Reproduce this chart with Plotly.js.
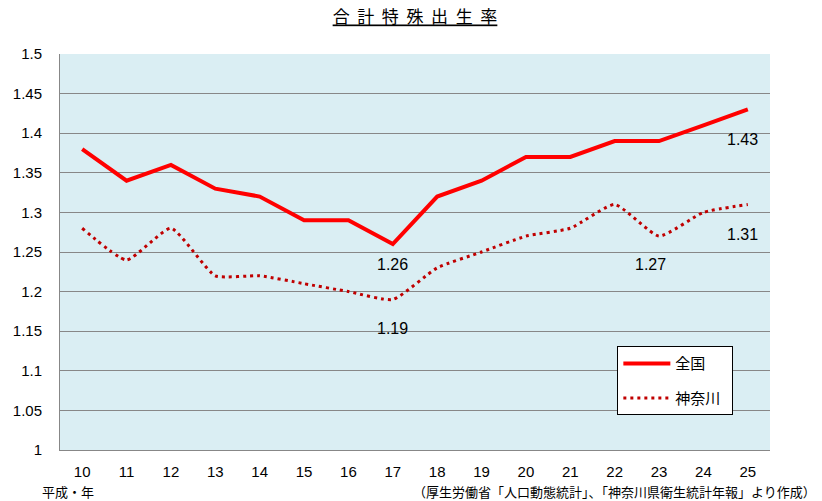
<!DOCTYPE html>
<html><head><meta charset="utf-8">
<script src="https://cdn.plot.ly/plotly-3.0.1.min.js"></script>
<style>body{margin:0;background:#fff}#c{width:822px;height:501px}</style>
</head><body><div id="c"></div>
<script>
const years = ['10','11','12','13','14','15','16','17','18','19','20','21','22','23','24','25'];
const national = [1.38,1.34,1.36,1.33,1.32,1.29,1.29,1.26,1.32,1.34,1.37,1.37,1.39,1.39,1.41,1.43];
const kanagawa = [1.28,1.24,1.28,1.22,1.22,1.21,1.20,1.19,1.23,1.25,1.27,1.28,1.31,1.27,1.30,1.31];
const labelsNational = [{i:7,t:'1.26',dy:-20,dx:0},{i:15,t:'1.43',dy:-30,dx:-5}];
const labelsKanagawa = [{i:7,t:'1.19',dy:-29,dx:0},{i:13,t:'1.27',dy:-28,dx:-9},{i:15,t:'1.31',dy:-30,dx:-5}];
const yTicks = [1,1.05,1.1,1.15,1.2,1.25,1.3,1.35,1.4,1.45,1.5];
const yTickText = ['1','1.05','1.1','1.15','1.2','1.25','1.3','1.35','1.4','1.45','1.5'];

const font = 'Liberation Sans, Arial, sans-serif';
const cjk = 'Noto Sans CJK JP, sans-serif';

const traces = [
  {x: years, y: national, type:'scatter', mode:'lines', name:'全国', legendgroup:'a',
   line:{color:'#FF0000', width:4}},
  {x: years, y: kanagawa, type:'scatter', mode:'lines', name:'神奈川&nbsp;&nbsp;', legendgroup:'b',
   line:{color:'#C00000', width:3, dash:'3px,4px', shape:'spline', smoothing:0.5}}
];
const ann = [];
labelsNational.concat(labelsKanagawa).forEach((l, k) => {
  const arr = k < labelsNational.length ? national : kanagawa;
  ann.push({x: l.i, y: arr[l.i], xref:'x', yref:'y', text:l.t, showarrow:false,
    yshift:l.dy, xshift:l.dx, xanchor:'center', yanchor:'middle', font:{family:font, size:16, color:'#000'}});
});
ann.push({text:'平成・年', xref:'paper', yref:'paper', x:0.011, y:-0.105, xanchor:'center', yanchor:'middle',
  showarrow:false, font:{family:cjk, size:13, color:'#000'}});
ann.push({text:'（厚生労働省「人口動態統計」、「神奈川県衛生統計年報」より作成）', xref:'paper', yref:'paper',
  x:1.068, y:-0.105, xanchor:'right', yanchor:'middle', showarrow:false,
  font:{family:cjk, size:13, color:'#000'}});

const layout = {
  width:822, height:501,
  margin:{l:60, r:52, t:54, b:51},
  paper_bgcolor:'#FFFFFF', plot_bgcolor:'#DAEEF3',
  title:{text:'<u>合&nbsp; 計&nbsp; 特&nbsp; 殊&nbsp; 出&nbsp; 生&nbsp; 率</u>', x:0.5, xref:'paper', xanchor:'center', y:0.965, yanchor:'middle',
    font:{family:cjk, size:17, color:'#000'}},
  xaxis:{type:'category', range:[-0.5,15.5], showgrid:false, showline:true, linecolor:'#878787', linewidth:1,
    ticks:'', tickfont:{family:font, size:15, color:'#000'}, ticklabelstandoff:8, zeroline:false, fixedrange:true},
  yaxis:{range:[1,1.5], tickvals:yTicks, ticktext:yTickText, showgrid:true, gridcolor:'#878787', gridwidth:1,
    showline:true, linecolor:'#878787', linewidth:1, ticks:'', zeroline:false,
    tickfont:{family:font, size:15, color:'#000'}, ticklabelstandoff:14},
  showlegend:true,
  legend:{x:0.785, y:0.262, xanchor:'left', yanchor:'top', bgcolor:'#FFFFFF', bordercolor:'#000', borderwidth:1,
    font:{family:cjk, size:15, color:'#000'}, tracegroupgap:12, itemwidth:47},
  annotations: ann
};
Plotly.newPlot('c', traces, layout, {staticPlot:true});
</script></body></html>
